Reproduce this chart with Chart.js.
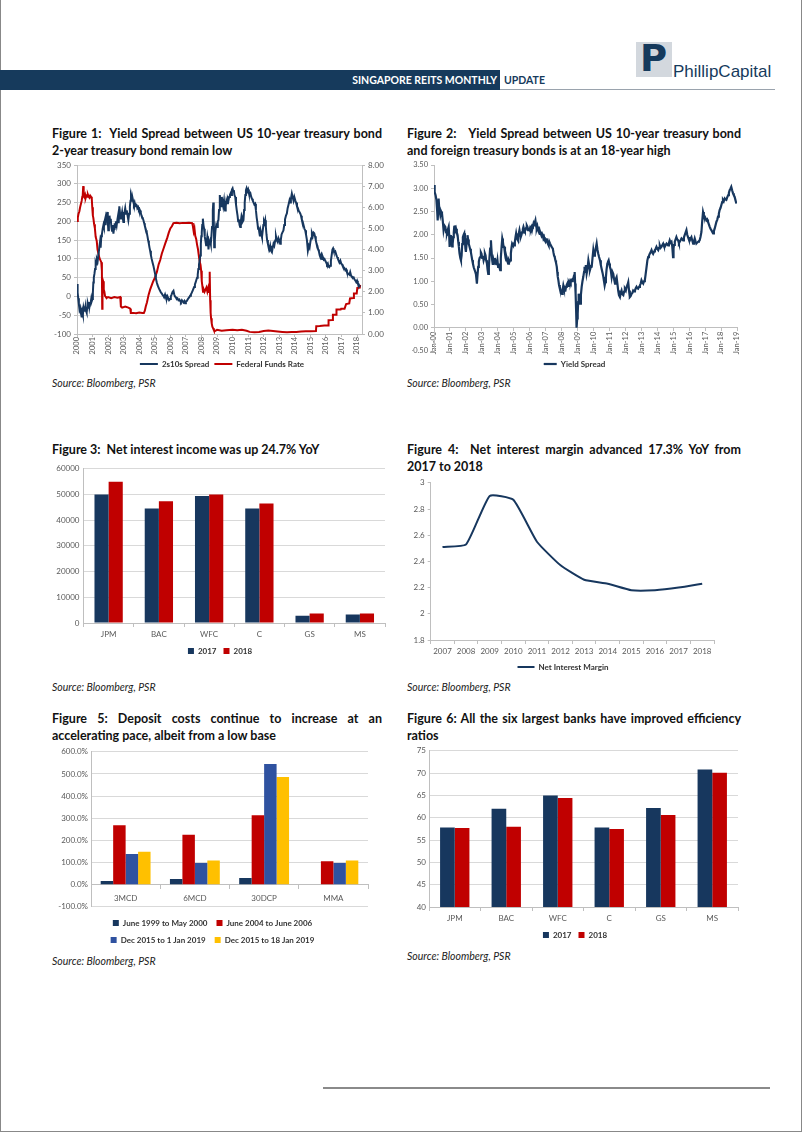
<!DOCTYPE html>
<html><head><meta charset="utf-8">
<script src="https://cdn.jsdelivr.net/npm/chart.js@4.4.0/dist/chart.umd.min.js"></script>
<style>
html,body{margin:0;padding:0;background:#fff;}
body{width:802px;height:1132px;position:relative;overflow:hidden;font-family:Lato,"Open Sans",sans-serif;}
.a{position:absolute;}
.t{position:absolute;font-weight:bold;font-size:12.5px;line-height:17px;color:#111;white-space:nowrap;}
.j{text-align:justify;text-align-last:justify;}
.src{position:absolute;font-style:italic;font-size:10.5px;color:#222;white-space:nowrap;}
canvas{position:absolute;}
</style></head>
<body>
<!-- page frame -->
<div class="a" style="left:0;top:0;width:1px;height:1132px;background:#888"></div>
<div class="a" style="left:801px;top:0;width:1px;height:1132px;background:#888"></div>
<div class="a" style="left:0;top:1131px;width:802px;height:1px;background:#888"></div>
<!-- header -->
<div class="a" style="left:0;top:70px;width:500px;height:20px;background:#163a5c"></div>
<div class="a" style="left:0;top:70px;width:497px;height:20px;line-height:20px;text-align:right;color:#fff;font-weight:bold;font-size:10.5px;">SINGAPORE REITS MONTHLY</div>
<div class="a" style="left:504px;top:70px;height:20px;line-height:20px;color:#163a5c;font-weight:bold;font-size:10.5px;">UPDATE</div>
<div class="a" style="left:500px;top:89px;width:275px;height:1px;background:#9aa3ad"></div>
<div class="a" style="left:636px;top:42px;width:36px;height:35px;background:#d3d8de"></div>
<div class="a" style="left:640px;top:37px;font-family:'DejaVu Sans';font-weight:bold;font-size:37px;line-height:44px;color:#163a5c;">P</div>
<div class="a" style="left:673px;top:62px;font-family:'Liberation Sans';font-size:17px;line-height:20px;color:#163a5c;">PhillipCapital</div>
<!-- footer -->
<div class="a" style="left:323px;top:1087px;width:447px;height:2px;background:#8a8a8a"></div>

<!-- titles -->
<div class="t j" style="left:52px;top:125px;width:330px;">Figure 1:&nbsp; Yield Spread between US 10-year treasury bond</div>
<div class="t" style="left:52px;top:142px;">2-year treasury bond remain low</div>
<div class="t j" style="left:407px;top:125px;width:334px;">Figure 2:&nbsp;&nbsp; Yield Spread between US 10-year treasury bond</div>
<div class="t" style="left:407px;top:142px;">and foreign treasury bonds is at an 18-year high</div>
<div class="t" style="left:52px;top:441px;">Figure 3:&nbsp; Net interest income was up 24.7% YoY</div>
<div class="t j" style="left:407px;top:441px;width:334px;">Figure 4:&nbsp; Net interest margin advanced 17.3% YoY from</div>
<div class="t" style="left:407px;top:458px;">2017 to 2018</div>
<div class="t j" style="left:52px;top:710px;width:330px;">Figure 5: Deposit costs continue to increase at an</div>
<div class="t" style="left:52px;top:727px;">accelerating pace, albeit from a low base</div>
<div class="t j" style="left:407px;top:710px;width:334px;">Figure 6: All the six largest banks have improved efficiency</div>
<div class="t" style="left:407px;top:727px;">ratios</div>

<div class="src" style="left:52px;top:377px;">Source: Bloomberg, PSR</div>
<div class="src" style="left:407px;top:377px;">Source: Bloomberg, PSR</div>
<div class="src" style="left:52px;top:681px;">Source: Bloomberg, PSR</div>
<div class="src" style="left:407px;top:681px;">Source: Bloomberg, PSR</div>
<div class="src" style="left:52px;top:955px;">Source: Bloomberg, PSR</div>
<div class="src" style="left:407px;top:950px;">Source: Bloomberg, PSR</div>

<script>
// ---------------- DATA ----------------
// Figure 1 (x = position in axis-label units, label i = year 2000+i)
const fig1TickLabels = ['2000','2001','2002','2003','2004','2005','2006','2007','2008','2009','2010','2011','2012','2013','2014','2015','2016','2017','2018'];
const fig1SpreadX = [0.00,0.04,0.08,0.12,0.16,0.20,0.24,0.28,0.30,0.34,0.38,0.42,0.46,0.51,0.55,0.58,0.62,0.66,0.70,0.73,0.77,0.80,0.84,0.88,0.92,0.95,0.99,1.02,1.05,1.08,1.12,1.16,1.20,1.24,1.28,1.33,1.37,1.42,1.48,1.52,1.56,1.60,1.65,1.70,1.73,1.76,1.80,1.84,1.88,1.91,1.95,1.98,2.01,2.05,2.09,2.13,2.17,2.21,2.25,2.30,2.34,2.38,2.42,2.46,2.50,2.55,2.60,2.64,2.68,2.72,2.77,2.82,2.86,2.90,2.94,2.98,3.02,3.06,3.10,3.15,3.20,3.25,3.30,3.35,3.40,3.44,3.47,3.50,3.54,3.58,3.62,3.66,3.70,3.74,3.79,3.84,3.88,3.93,3.98,4.02,4.05,4.10,4.15,4.20,4.23,4.27,4.32,4.36,4.40,4.44,4.48,4.53,4.58,4.62,4.66,4.70,4.75,4.80,4.86,4.91,4.96,5.02,5.07,5.13,5.18,5.23,5.28,5.34,5.40,5.45,5.50,5.55,5.60,5.66,5.72,5.77,5.82,5.87,5.92,5.98,6.03,6.08,6.14,6.20,6.25,6.30,6.36,6.41,6.46,6.52,6.58,6.63,6.68,6.74,6.79,6.84,6.90,6.95,7.00,7.06,7.11,7.16,7.22,7.27,7.32,7.38,7.43,7.48,7.53,7.58,7.63,7.68,7.72,7.76,7.80,7.84,7.88,7.92,7.96,7.99,8.02,8.05,8.09,8.13,8.17,8.21,8.25,8.30,8.34,8.38,8.42,8.45,8.50,8.55,8.60,8.64,8.68,8.73,8.76,8.79,8.82,8.86,8.90,8.95,9.00,9.05,9.09,9.13,9.18,9.22,9.27,9.31,9.36,9.40,9.45,9.49,9.52,9.56,9.60,9.65,9.70,9.74,9.78,9.83,9.88,9.92,9.96,10.00,10.04,10.08,10.12,10.17,10.22,10.27,10.32,10.36,10.40,10.45,10.49,10.53,10.58,10.62,10.66,10.70,10.74,10.78,10.82,10.86,10.90,10.95,11.00,11.05,11.10,11.15,11.20,11.25,11.30,11.35,11.40,11.45,11.50,11.55,11.60,11.64,11.67,11.72,11.76,11.80,11.85,11.89,11.94,11.98,12.02,12.06,12.10,12.14,12.18,12.22,12.27,12.32,12.37,12.42,12.47,12.53,12.58,12.63,12.68,12.74,12.79,12.84,12.90,12.95,13.00,13.06,13.10,13.15,13.20,13.27,13.32,13.37,13.43,13.49,13.54,13.60,13.66,13.70,13.75,13.81,13.86,13.92,13.97,14.03,14.08,14.14,14.20,14.25,14.30,14.35,14.40,14.45,14.50,14.56,14.62,14.67,14.72,14.78,14.84,14.90,14.95,15.00,15.05,15.10,15.15,15.20,15.25,15.30,15.35,15.40,15.45,15.50,15.55,15.60,15.65,15.70,15.75,15.80,15.86,15.91,15.96,16.02,16.07,16.12,16.17,16.22,16.27,16.32,16.37,16.42,16.46,16.50,16.55,16.60,16.66,16.72,16.77,16.82,16.88,16.93,16.98,17.04,17.09,17.14,17.20,17.25,17.30,17.35,17.40,17.46,17.51,17.56,17.62,17.67,17.72,17.78,17.84,17.90,17.95,18.00,18.05,18.10,18.15,18.20];
const fig1Spread = [33,10,-5,-20,-35,-30,-43,-50,-56,-40,-48,-30,-38,-34,-25,-38,-43,-30,-20,-25,-15,-28,-18,-16,-5,-12,-7,10,37,50,60,73,90,85,100,95,109,125,145,130,160,165,180,190,185,198,205,190,215,212,225,200,176,190,215,200,207,185,175,190,167,180,195,185,200,189,205,215,195,240,220,205,215,225,210,198,215,225,235,220,229,215,203,220,240,255,270,265,255,260,252,245,250,240,245,243,235,238,230,232,229,222,215,210,208,203,195,188,182,176,171,160,148,140,130,122,110,100,90,82,72,60,48,37,30,25,20,15,10,8,4,2,-2,5,-4,-7,0,-5,-10,-7,0,5,12,15,5,0,-3,-7,-5,-10,-8,-12,-15,-10,-13,-16,-12,-18,-13,-12,-8,-5,-2,2,5,10,15,20,25,32,38,45,50,58,73,85,95,109,140,160,171,190,207,190,180,160,150,136,145,160,150,125,145,150,140,160,185,230,250,210,131,150,175,190,185,200,203,230,270,250,240,265,250,240,255,235,229,240,255,248,260,256,265,270,275,270,285,288,280,283,270,265,245,229,215,200,205,190,185,200,215,210,200,203,230,250,270,283,288,280,285,275,270,274,265,260,255,250,245,247,230,210,195,180,185,170,160,175,165,158,175,190,200,195,203,185,165,150,140,131,125,135,122,118,130,140,135,149,160,150,145,155,150,140,150,165,170,176,190,205,215,221,235,245,256,250,260,274,265,255,265,256,250,240,235,228,225,221,215,205,200,190,180,176,165,150,122,135,130,145,155,167,160,170,168,160,150,140,135,125,120,110,104,110,100,105,98,100,95,90,85,88,80,78,82,95,110,125,128,122,118,120,112,105,100,95,90,95,88,85,80,78,75,70,72,65,62,60,58,65,55,52,50,51,45,42,38,42,35,33,28,25];
const fig1FedX = [0.00,0.05,0.10,0.15,0.20,0.25,0.30,0.34,0.37,0.40,0.43,0.47,0.52,0.56,0.60,0.65,0.70,0.75,0.80,0.85,0.90,0.95,0.98,1.02,1.05,1.10,1.15,1.20,1.27,1.32,1.38,1.44,1.50,1.56,1.60,1.62,1.64,1.68,1.72,1.76,1.80,1.85,1.90,2.00,2.20,2.40,2.60,2.78,2.82,2.90,3.10,3.30,3.42,3.46,3.60,3.80,4.00,4.20,4.30,4.36,4.42,4.50,4.60,4.70,4.80,4.90,5.00,5.14,5.25,5.35,5.45,5.57,5.68,5.80,5.90,6.00,6.10,6.20,6.40,6.60,6.80,7.00,7.20,7.40,7.45,7.50,7.55,7.60,7.66,7.72,7.78,7.85,7.90,7.94,7.98,8.02,8.05,8.10,8.15,8.20,8.26,8.32,8.38,8.43,8.47,8.50,8.53,8.56,8.59,8.62,8.66,8.70,8.75,8.80,8.90,9.00,9.30,9.60,10.00,10.30,10.60,10.90,11.10,11.40,11.70,12.00,12.30,12.60,12.90,13.20,13.50,13.80,14.10,14.40,14.70,15.00,15.36,15.38,15.60,15.90,16.15,16.17,16.40,16.45,16.65,16.68,16.95,16.98,17.20,17.30,17.50,17.55,17.75,17.80,17.98,18.02,18.18,18.20];
const fig1FedRate = [5.35,5.5,5.7,5.8,6.0,6.0,6.3,6.5,6.6,7.0,6.6,6.5,6.6,6.45,6.55,6.5,6.6,6.5,6.45,6.55,6.5,6.4,6.0,5.6,5.5,5.2,5.0,4.6,4.4,4.0,3.8,3.6,3.5,3.4,3.0,1.2,2.6,2.5,2.1,2.0,1.8,1.75,1.7,1.75,1.7,1.75,1.72,1.75,1.3,1.25,1.3,1.25,1.2,1.0,1.0,0.98,1.02,1.0,1.0,1.1,1.3,1.5,1.85,2.1,2.3,2.5,2.65,2.95,3.3,3.5,3.8,4.06,4.3,4.55,4.8,5.0,5.1,5.25,5.27,5.24,5.26,5.25,5.27,5.25,5.1,4.85,5.0,4.65,4.5,4.22,4.0,3.6,3.4,3.27,3.0,2.5,2.32,2.0,2.1,2.0,2.1,2.2,2.0,2.16,1.95,2.1,2.95,1.6,1.0,0.74,0.5,0.35,0.27,0.18,0.15,0.2,0.15,0.18,0.2,0.18,0.2,0.15,0.1,0.08,0.1,0.14,0.16,0.14,0.12,0.1,0.08,0.09,0.1,0.12,0.13,0.13,0.14,0.37,0.38,0.4,0.4,0.65,0.66,0.91,0.91,1.16,1.16,1.2,1.2,1.42,1.45,1.68,1.7,1.92,1.92,2.18,2.2,2.32];

// Figure 2 (x = years since Jan-00)
const fig2TickLabels = ['Jan-00','Jan-01','Jan-02','Jan-03','Jan-04','Jan-05','Jan-06','Jan-07','Jan-08','Jan-09','Jan-10','Jan-11','Jan-12','Jan-13','Jan-14','Jan-15','Jan-16','Jan-17','Jan-18','Jan-19'];
const fig2X = [0.00,0.04,0.10,0.15,0.20,0.23,0.26,0.29,0.32,0.35,0.40,0.45,0.50,0.55,0.60,0.65,0.71,0.76,0.81,0.86,0.92,0.95,0.98,1.02,1.06,1.10,1.14,1.17,1.21,1.24,1.27,1.31,1.35,1.38,1.43,1.48,1.52,1.56,1.60,1.65,1.69,1.73,1.77,1.81,1.86,1.90,1.94,1.97,2.00,2.04,2.07,2.10,2.14,2.18,2.21,2.26,2.31,2.35,2.40,2.44,2.49,2.54,2.59,2.63,2.66,2.69,2.72,2.77,2.81,2.86,2.90,2.94,2.98,3.02,3.06,3.11,3.15,3.19,3.23,3.27,3.32,3.36,3.40,3.44,3.48,3.52,3.57,3.60,3.65,3.69,3.73,3.77,3.82,3.86,3.90,3.94,3.98,4.02,4.06,4.10,4.15,4.19,4.24,4.28,4.32,4.36,4.40,4.45,4.49,4.53,4.57,4.61,4.65,4.70,4.74,4.78,4.82,4.86,4.90,4.95,4.99,5.03,5.07,5.11,5.15,5.19,5.23,5.26,5.30,5.33,5.36,5.40,5.44,5.48,5.52,5.57,5.61,5.65,5.70,5.74,5.78,5.82,5.86,5.90,5.94,5.99,6.03,6.07,6.11,6.15,6.20,6.24,6.28,6.32,6.36,6.40,6.44,6.48,6.52,6.57,6.61,6.65,6.69,6.74,6.78,6.82,6.86,6.90,6.94,6.99,7.03,7.07,7.11,7.15,7.19,7.23,7.28,7.32,7.36,7.41,7.45,7.49,7.53,7.57,7.61,7.65,7.70,7.73,7.76,7.80,7.84,7.87,7.90,7.94,7.98,8.03,8.07,8.11,8.15,8.20,8.24,8.28,8.32,8.36,8.41,8.45,8.49,8.53,8.57,8.61,8.66,8.70,8.74,8.78,8.82,8.85,8.88,8.91,8.93,8.95,8.98,9.01,9.04,9.07,9.11,9.16,9.21,9.26,9.31,9.36,9.41,9.44,9.47,9.52,9.57,9.62,9.68,9.73,9.78,9.83,9.89,9.94,9.99,10.04,10.09,10.14,10.20,10.25,10.30,10.35,10.41,10.46,10.51,10.57,10.62,10.66,10.70,10.74,10.78,10.82,10.87,10.91,10.95,10.99,11.03,11.08,11.14,11.19,11.24,11.29,11.35,11.40,11.45,11.50,11.55,11.60,11.66,11.71,11.76,11.81,11.87,11.92,11.97,12.03,12.08,12.13,12.18,12.23,12.28,12.33,12.39,12.44,12.49,12.55,12.60,12.65,12.70,12.75,12.80,12.86,12.91,12.96,13.01,13.06,13.12,13.17,13.22,13.27,13.33,13.38,13.43,13.48,13.53,13.58,13.64,13.69,13.74,13.80,13.85,13.90,13.95,14.00,14.06,14.11,14.16,14.21,14.26,14.32,14.37,14.42,14.47,14.53,14.58,14.63,14.68,14.73,14.78,14.83,14.89,14.94,14.99,15.02,15.05,15.10,15.15,15.20,15.25,15.31,15.36,15.41,15.46,15.52,15.57,15.62,15.67,15.72,15.78,15.83,15.88,15.93,15.98,16.04,16.09,16.14,16.19,16.25,16.30,16.35,16.40,16.45,16.50,16.56,16.61,16.66,16.71,16.77,16.82,16.87,16.92,16.98,17.03,17.08,17.13,17.18,17.24,17.29,17.34,17.39,17.45,17.50,17.55,17.60,17.65,17.71,17.76,17.81,17.86,17.91,17.97,18.02,18.07,18.12,18.17,18.23,18.28,18.33,18.38,18.44,18.49,18.54,18.59,18.64,18.70,18.75,18.80,18.85,18.90,18.96];
const fig2Spread = [3.07,2.92,2.85,2.75,2.5,2.31,2.5,2.78,2.6,2.53,2.42,2.5,2.46,2.3,2.1,2.2,2.17,2.05,2.03,2.1,2.17,2.0,1.74,1.85,1.99,1.9,1.75,1.81,1.95,2.05,2.17,2.2,2.1,2.13,2.05,1.99,1.85,1.74,1.6,1.5,1.45,1.55,1.8,1.95,2.0,2.03,1.85,1.7,1.63,1.8,1.9,1.99,1.9,1.8,1.77,1.7,1.63,1.55,1.45,1.38,1.3,1.25,1.2,1.15,1.05,0.95,1.1,1.31,1.42,1.5,1.52,1.62,1.59,1.5,1.55,1.45,1.5,1.6,1.56,1.45,1.38,1.25,1.16,1.3,1.52,1.7,1.88,1.7,1.45,1.35,1.45,1.38,1.5,1.4,1.42,1.35,1.45,1.31,1.38,1.3,1.24,1.5,1.75,1.92,1.85,1.74,1.74,1.6,1.5,1.45,1.48,1.42,1.38,1.45,1.42,1.45,1.6,1.72,1.81,1.78,1.8,1.77,1.85,1.95,2.03,1.95,1.9,1.88,1.98,2.05,2.1,2.02,1.95,1.99,2.05,2.12,2.17,2.12,2.08,2.1,2.15,2.2,2.17,2.1,2.12,2.1,2.15,2.12,2.17,2.2,2.18,2.24,2.2,2.26,2.31,2.2,2.13,2.18,2.1,2.06,2.1,2.02,2.03,1.98,2.02,1.99,1.92,1.95,1.88,1.85,1.9,1.92,1.85,1.8,1.77,1.85,1.81,1.81,1.75,1.72,1.7,1.62,1.55,1.52,1.45,1.4,1.31,1.2,1.1,1.02,0.92,0.85,0.88,0.8,0.78,0.73,0.82,0.91,0.85,0.8,0.8,0.88,0.92,0.95,0.9,0.98,0.95,1.0,0.97,1.02,1.0,1.05,1.06,1.12,1.2,0.95,0.73,0.4,0.15,0.0,0.2,0.3,0.55,0.73,0.65,0.52,0.7,0.88,1.0,1.09,1.2,1.31,1.25,1.35,1.16,1.25,1.45,1.35,1.24,1.3,1.31,1.5,1.67,1.55,1.59,1.7,1.81,1.68,1.59,1.52,1.45,1.35,1.27,1.18,1.09,1.0,0.91,0.98,1.09,1.25,1.38,1.42,1.45,1.38,1.31,1.25,1.09,1.2,1.16,1.05,0.95,1.05,1.09,0.95,0.8,0.7,0.66,0.75,0.8,0.72,0.7,0.78,0.84,0.8,0.88,0.92,0.98,0.8,0.66,0.68,0.73,0.75,0.8,0.78,0.8,0.85,0.88,0.85,0.84,0.88,0.91,0.95,1.02,0.98,0.95,1.0,1.02,1.15,1.31,1.45,1.52,1.55,1.59,1.62,1.67,1.62,1.59,1.64,1.67,1.7,1.74,1.7,1.67,1.72,1.77,1.72,1.74,1.78,1.81,1.76,1.74,1.78,1.81,1.79,1.77,1.82,1.88,1.83,1.85,1.75,1.52,1.7,1.78,1.85,1.9,1.95,1.9,1.88,1.82,1.85,1.88,1.92,1.9,1.88,1.94,1.99,2.05,2.1,2.0,1.95,1.9,1.88,1.92,1.95,1.88,1.81,1.85,1.92,1.86,1.81,1.83,1.85,1.86,1.88,1.95,2.06,2.3,2.49,2.42,2.39,2.35,2.31,2.33,2.28,2.22,2.17,2.13,2.1,2.06,2.03,2.08,2.13,2.2,2.28,2.32,2.39,2.45,2.53,2.58,2.64,2.7,2.75,2.72,2.78,2.76,2.75,2.8,2.85,2.9,2.96,2.99,3.03,2.95,2.89,2.85,2.82,2.75,2.67];

// Figure 3
const fig3Banks = ['JPM','BAC','WFC','C','GS','MS'];
const fig3Series = ['2017','2018'];
const fig3NII2017 = [50000,44600,49400,44600,2800,3300];
const fig3NII2018 = [55000,47400,50000,46500,3700,3700];

// Figure 4
const fig4Years = ['2007','2008','2009','2010','2011','2012','2013','2014','2015','2016','2017','2018'];
const fig4NIM = [2.51,2.53,2.90,2.87,2.55,2.37,2.26,2.23,2.18,2.18,2.20,2.23];

// Figure 5
const fig5Categories = ['3MCD','6MCD','30DCP','MMA'];
const fig5Series = ['June 1999 to May 2000','June 2004 to June 2006','Dec 2015 to 1 Jan 2019','Dec 2015 to 18 Jan 2019'];
const fig5Jun99May00 = [16,25,30,-3];
const fig5Jun04Jun06 = [268,225,313,106];
const fig5Dec15Jan01 = [139,98,545,98];
const fig5Dec15Jan18 = [149,109,486,109];

// Figure 6
const fig6Banks = ['JPM','BAC','WFC','C','GS','MS'];
const fig6Series = ['2017','2018'];
const fig6Eff2017 = [57.8,62.0,65.0,57.8,62.2,70.8];
const fig6Eff2018 = [57.7,58.0,64.4,57.5,60.6,70.1];

// ---------------- STYLE ----------------
const NAVY='#17375E', RED='#C00000', BLUE='#2F52A0', YELLOW='#FFC000';
const GRID='#D9D9D9', AXIS='#BFBFBF', TXT='#595959', LEG='#333333';
Chart.defaults.font.family = 'Lato, "Open Sans", sans-serif';
Chart.defaults.font.size = 8;
Chart.defaults.color = TXT;
Chart.defaults.animation = false;
Chart.defaults.plugins.tooltip.enabled = false;

function mk(left, top, w, h){
  const c = document.createElement('canvas');
  c.width = w; c.height = h;
  c.style.left = left + 'px'; c.style.top = top + 'px';
  c.style.width = w + 'px'; c.style.height = h + 'px';
  document.body.appendChild(c);
  return c.getContext('2d');
}
const pinW = w => s => { s.width = w; };
const pinH = h => s => { s.height = h; };
const pts = (xs, ys) => xs.map((x, i) => ({x: x, y: ys[i]}));
const legFont = {size: 8, weight: 'bold'};
const base = {responsive: false, devicePixelRatio: 1, animation: false};

// ---------------- FIGURE 1 ----------------
new Chart(mk(46, 157, 352, 221), {
  type: 'line',
  data: {datasets: [
    {label: '2s10s Spread', data: pts(fig1SpreadX.map(v => 2000 + v), fig1Spread), yAxisID: 'y', borderColor: NAVY, backgroundColor: NAVY, borderWidth: 2, pointRadius: 0, tension: 0},
    {label: 'Federal Funds Rate', data: pts(fig1FedX.map(v => 2000 + v), fig1FedRate), yAxisID: 'y1', borderColor: RED, backgroundColor: RED, borderWidth: 2, pointRadius: 0, tension: 0}
  ]},
  options: Object.assign({}, base, {
    layout: {padding: {top: 8, left: 0, right: 0, bottom: 0}},
    plugins: {legend: {position: 'bottom', labels: {usePointStyle: true, pointStyle: 'line', pointStyleWidth: 18, padding: 5, color: LEG, font: legFont}}},
    scales: {
      x: {type: 'linear', min: 2000, max: 2018.32, afterFit: pinH(21),
          afterBuildTicks: s => { s.ticks = fig1TickLabels.map((_, i) => ({value: 2000 + i})); },
          ticks: {autoSkip: false, maxRotation: 90, minRotation: 90, padding: 0, font: {size: 7.5}, callback: v => fig1TickLabels[Math.round(v - 2000)]},
          grid: {drawOnChartArea: false, tickLength: 3, color: AXIS}, border: {color: AXIS}},
      y: {position: 'left', min: -100, max: 350, afterFit: pinW(31),
          ticks: {stepSize: 50, padding: 3},
          grid: {color: GRID, tickLength: 3, tickColor: AXIS}, border: {color: AXIS}},
      y1: {position: 'right', min: 0, max: 8, afterFit: pinW(36),
          ticks: {stepSize: 1, padding: 3, callback: v => v.toFixed(2)},
          grid: {drawOnChartArea: false, tickLength: 3, color: AXIS}, border: {color: AXIS}}
    }
  })
});

// ---------------- FIGURE 2 ----------------
new Chart(mk(400, 157, 350, 221), {
  type: 'line',
  data: {datasets: [
    {label: 'Yield Spread', data: pts(fig2X, fig2Spread), borderColor: NAVY, backgroundColor: NAVY, borderWidth: 2.2, pointRadius: 0, tension: 0}
  ]},
  options: Object.assign({}, base, {
    layout: {padding: {top: 8, left: 12, right: 13, bottom: 0}},
    plugins: {legend: {position: 'bottom', labels: {usePointStyle: true, pointStyle: 'line', pointStyleWidth: 13, padding: 9, color: LEG, font: legFont}}},
    scales: {
      x: {type: 'linear', min: 0, max: 19, position: {y: 0},
          afterBuildTicks: s => { s.ticks = fig2TickLabels.map((_, i) => ({value: i})); },
          ticks: {autoSkip: false, maxRotation: 90, minRotation: 90, padding: 1, font: {size: 7.5}, callback: v => fig2TickLabels[Math.round(v)]},
          grid: {drawOnChartArea: false, tickLength: 3, color: AXIS}, border: {color: AXIS}},
      y: {min: -0.5, max: 3.5, afterFit: pinW(22),
          ticks: {stepSize: 0.5, padding: 3, font: {size: 7.5}, callback: v => v.toFixed(2)},
          grid: {drawOnChartArea: false, tickLength: 3, color: AXIS}, border: {color: AXIS}}
    }
  })
});

// ---------------- FIGURE 3 ----------------
new Chart(mk(45, 460, 350, 205), {
  type: 'bar',
  data: {labels: fig3Banks, datasets: [
    {label: fig3Series[0], data: fig3NII2017, backgroundColor: NAVY},
    {label: fig3Series[1], data: fig3NII2018, backgroundColor: RED}
  ]},
  options: Object.assign({}, base, {
    layout: {padding: {top: 6, left: 10, right: 10, bottom: 0}},
    plugins: {legend: {position: 'bottom', labels: {boxWidth: 6, boxHeight: 6, padding: 7, color: LEG, font: legFont}}},
    datasets: {bar: {categoryPercentage: 0.563, barPercentage: 1}},
    scales: {
      x: {afterFit: pinH(17), ticks: {padding: 3},
          grid: {drawOnChartArea: false, tickLength: 4, color: AXIS, offset: true}, border: {color: AXIS}},
      y: {min: 0, max: 60000, afterFit: pinW(28.5),
          ticks: {stepSize: 10000, padding: 4, callback: v => String(v)},
          grid: {color: GRID, tickLength: 0}, border: {color: AXIS}}
    }
  })
});

// ---------------- FIGURE 4 ----------------
new Chart(mk(400, 475, 350, 206), {
  type: 'line',
  data: {labels: fig4Years, datasets: [
    {label: 'Net Interest Margin', data: fig4NIM, borderColor: NAVY, backgroundColor: NAVY, borderWidth: 2, pointRadius: 0, tension: 0.15}
  ]},
  options: Object.assign({}, base, {
    layout: {padding: {top: 7, left: 12, right: 36, bottom: 0}},
    plugins: {legend: {position: 'bottom', labels: {usePointStyle: true, pointStyle: 'line', pointStyleWidth: 17, padding: 6, color: LEG, font: legFont}}},
    scales: {
      x: {offset: true, afterFit: pinH(17), ticks: {padding: 3, maxRotation: 0, minRotation: 0, autoSkip: false},
          grid: {drawOnChartArea: false, tickLength: 4, color: AXIS, offset: true}, border: {color: AXIS}},
      y: {min: 1.8, max: 3, afterFit: pinW(18.7),
          ticks: {stepSize: 0.2, padding: 3, callback: v => String(+v.toFixed(1))},
          grid: {drawOnChartArea: false, tickLength: 3, color: AXIS}, border: {color: AXIS}}
    }
  })
});

// ---------------- FIGURE 5 ----------------
new Chart(mk(45, 744, 325, 210), {
  type: 'bar',
  data: {labels: fig5Categories, datasets: [
    {label: fig5Series[0], data: fig5Jun99May00, backgroundColor: NAVY},
    {label: fig5Series[1], data: fig5Jun04Jun06, backgroundColor: RED},
    {label: fig5Series[2], data: fig5Dec15Jan01, backgroundColor: BLUE},
    {label: fig5Series[3], data: fig5Dec15Jan18, backgroundColor: YELLOW}
  ]},
  options: Object.assign({}, base, {
    layout: {padding: {top: 7, left: 12, right: 2, bottom: 0}},
    plugins: {legend: {position: 'bottom', title: {display: true, text: ' ', font: {size: 1}, padding: 1},
      labels: {boxWidth: 6, boxHeight: 6, padding: 9, color: LEG, font: legFont}}},
    datasets: {bar: {categoryPercentage: 0.72, barPercentage: 1}},
    scales: {
      x: {position: {y: 0}, ticks: {padding: 5},
          grid: {drawOnChartArea: false, tickLength: 4, color: AXIS, offset: true}, border: {color: AXIS}},
      y: {min: -100, max: 600, afterFit: pinW(34),
          ticks: {stepSize: 100, padding: 3, callback: v => v.toFixed(1) + '%'},
          grid: {color: GRID, tickLength: 0}, border: {color: AXIS}}
    }
  })
});

// ---------------- FIGURE 6 ----------------
new Chart(mk(400, 743, 350, 206), {
  type: 'bar',
  data: {labels: fig6Banks, datasets: [
    {label: fig6Series[0], data: fig6Eff2017, backgroundColor: NAVY},
    {label: fig6Series[1], data: fig6Eff2018, backgroundColor: RED}
  ]},
  options: Object.assign({}, base, {
    layout: {padding: {top: 6, left: 12, right: 12, bottom: 0}},
    plugins: {legend: {position: 'bottom', labels: {boxWidth: 6, boxHeight: 6, padding: 7, color: LEG, font: legFont}}},
    datasets: {bar: {categoryPercentage: 0.57, barPercentage: 1}},
    scales: {
      x: {afterFit: pinH(17), ticks: {padding: 3},
          grid: {drawOnChartArea: false, tickLength: 4, color: AXIS, offset: true}, border: {color: AXIS}},
      y: {min: 40, max: 75, afterFit: pinW(17),
          ticks: {stepSize: 5, padding: 3},
          grid: {color: GRID, tickLength: 0}, border: {color: AXIS}}
    }
  })
});
</script>
</body></html>
